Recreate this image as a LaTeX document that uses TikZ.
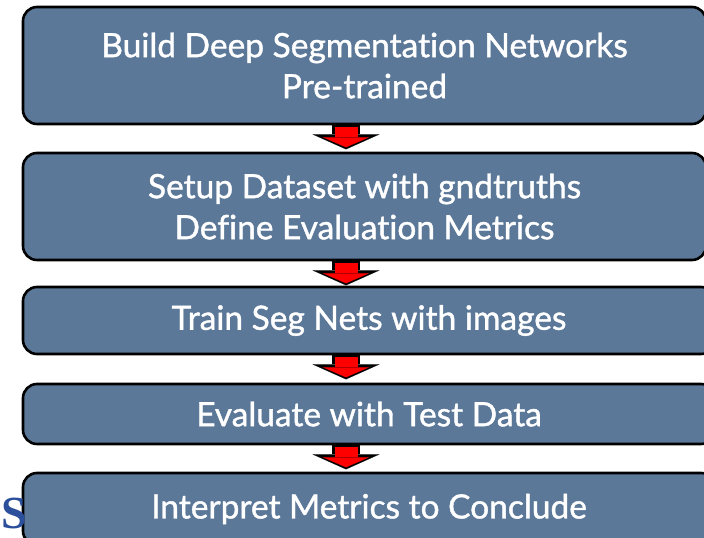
\documentclass[tikz,border=0pt]{standalone}
\usepackage{fontspec}
\setmainfont{Lato}[Ligatures=NoCommon]
\newfontfamily\stagefont{Lato}[Ligatures=NoCommon,FakeBold=1.2]
\newfontfamily\serifS{Liberation Serif}
\usetikzlibrary{arrows.meta,calc}
\definecolor{boxblue}{HTML}{5B7898}
\definecolor{sblue}{HTML}{2C4F9B}
\begin{document}
\begin{tikzpicture}[x=1pt,y=-1pt,
  stage/.style={draw=black, line width=2.6pt, fill=boxblue, rounded corners=14pt,
    text=white, font=\stagefont\fontsize{33.5}{41}\selectfont, align=center, inner sep=0pt},
  arrowback/.style={draw=black, line width=28pt,
    -{Triangle[length=15pt,width=67pt,line width=0.1pt]}},
  arrowfront/.style={draw=red, line width=23pt,
    -{Triangle[length=10pt,width=46pt,line width=0.1pt]}},
  bigS/.style={text=sblue, font=\serifS\bfseries\fontsize{46}{46}\selectfont, inner sep=0pt}]
\clip (0,0) rectangle (704,538);
\fill[white] (0,0) rectangle (704,538);
\node[stage, minimum width=683pt, minimum height=117pt] (b1) at (364.5,65.5)
  {Build Deep Segmentation Networks\\Pre-trained};
\node[stage, minimum width=683pt, minimum height=107pt] (b2) at (364.5,206.5)
  {Setup Dataset with gndtruths\\Define Evaluation Metrics};
\node[stage, minimum width=692pt, minimum height=67pt] (b3) at (369,320.5)
  {Train Seg Nets with images};
\node[stage, minimum width=692pt, minimum height=60pt] (b4) at (369,414)
  {Evaluate with Test Data};
\node[stage, minimum width=692pt, minimum height=72pt] (b5) at (369,509)
  {Interpret Metrics to Conclude};
\node[bigS, anchor=base west] (s) at (1,528) {S};
\coordinate (ax) at (346,0);
\foreach \a in {b1,b2,b3,b4}{
  \draw[arrowback] (\a.south -| ax) -- ($(\a.south -| ax)+(0,24)$);
  \draw[arrowfront] ($(\a.south -| ax)+(0,1.5)$) -- ($(\a.south -| ax)+(0,22)$);
}
\end{tikzpicture}
\end{document}
